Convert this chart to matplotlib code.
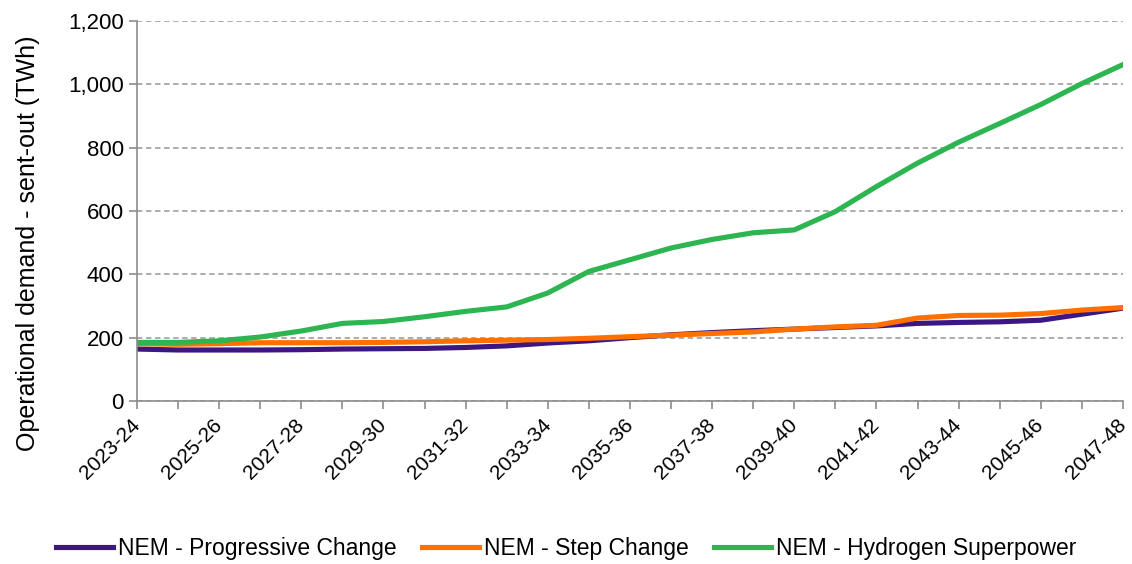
import matplotlib
matplotlib.use("Agg")
import matplotlib.pyplot as plt
from matplotlib.ticker import FuncFormatter

years = [f"{y}-{str(y+1)[2:]}" for y in range(2023, 2048)]
progressive = [164, 161, 161, 161, 162, 164, 165, 166, 169, 174, 183, 190, 200,
               209, 216, 222, 227, 232, 237, 245, 248, 250, 255, 274, 293]
step = [181, 179, 181, 184, 184, 184, 185, 187, 190, 192, 194, 198, 203,
        208, 213, 218, 227, 234, 239, 262, 270, 271, 276, 287, 295]
hydrogen = [185, 185, 190, 202, 221, 245, 251, 266, 283, 297, 341, 409, 446,
            483, 510, 531, 540, 598, 677, 751, 817, 876, 936, 1002, 1062]
series_names = ["NEM - Progressive Change", "NEM - Step Change", "NEM - Hydrogen Superpower"]
colors = ["#3C1782", "#FF7000", "#2DB552"]

plt.rcParams["font.family"] = ["Liberation Sans", "DejaVu Sans"]

fig = plt.figure(figsize=(11.32, 5.64), dpi=100)
ax = fig.add_axes([0.121, 0.289, 0.871, 0.674])

x = list(range(len(years)))
for vals, name, c in zip([progressive, step, hydrogen], series_names, colors):
    ax.plot(x, vals, color=c, lw=3.7, label=name, solid_joinstyle="round")

ax.set_xlim(0, len(years) - 1)
ax.set_ylim(0, 1200)
ax.set_yticks(range(0, 1201, 200))
ax.yaxis.set_major_formatter(FuncFormatter(lambda v, p: f"{int(v):,}"))
ax.set_xticks(x)
ax.set_xticklabels([lab if i % 2 == 0 else "" for i, lab in enumerate(years)],
                   rotation=45, ha="right", va="center", rotation_mode="anchor")
ax.tick_params(axis="both", labelsize=16, color="#8C8C8C", length=6, width=1.2)
ax.tick_params(axis="x", labelsize=15, pad=9)

for s in ["top", "right"]:
    ax.spines[s].set_visible(False)
for s in ["left", "bottom"]:
    ax.spines[s].set_color("#8C8C8C")
    ax.spines[s].set_linewidth(1.2)

ax.yaxis.grid(True, color="#A6A6A6", linestyle=(0, (3, 2)), linewidth=1.3)
ax.set_axisbelow(True)
ax.set_ylabel("Operational demand - sent-out (TWh)", fontsize=18, va="center")
ax.yaxis.set_label_coords(-0.111, 0.415)

fig.legend(loc="lower center", bbox_to_anchor=(0.5, -0.03), ncol=3, frameon=False,
           fontsize=16.5, handlelength=2.5, handletextpad=0.2, columnspacing=1.1)

fig.savefig("out.png", dpi=100)
